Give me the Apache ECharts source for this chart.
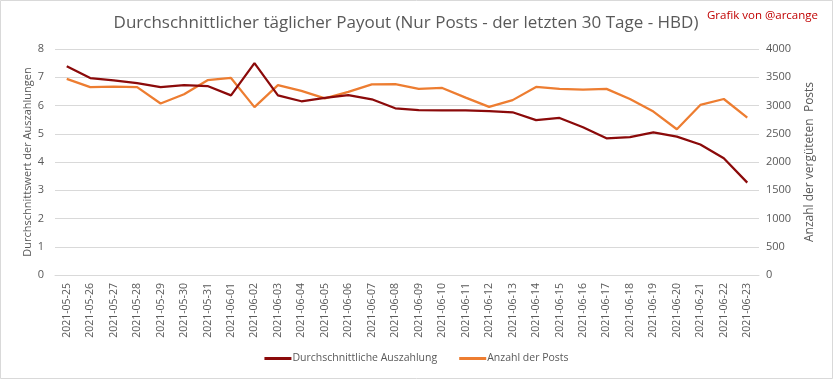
<!DOCTYPE html>
<html>
<head>
<meta charset="utf-8">
<script src="https://cdn.jsdelivr.net/npm/echarts@6/dist/echarts.min.js"></script>
<style>
html,body{margin:0;padding:0;background:#fff;}
#c{width:833px;height:379px;}
</style>
</head>
<body>
<div id="c"></div>
<script>
const categories = ["2021-05-25","2021-05-26","2021-05-27","2021-05-28","2021-05-29","2021-05-30","2021-05-31","2021-06-01","2021-06-02","2021-06-03","2021-06-04","2021-06-05","2021-06-06","2021-06-07","2021-06-08","2021-06-09","2021-06-10","2021-06-11","2021-06-12","2021-06-13","2021-06-14","2021-06-15","2021-06-16","2021-06-17","2021-06-18","2021-06-19","2021-06-20","2021-06-21","2021-06-22","2021-06-23"];
const payout = [7.39,6.97,6.89,6.79,6.65,6.72,6.69,6.36,7.50,6.36,6.15,6.27,6.37,6.22,5.90,5.84,5.83,5.83,5.80,5.76,5.48,5.56,5.23,4.84,4.88,5.05,4.90,4.62,4.13,3.27];
const posts = [3472,3325,3335,3325,3035,3200,3448,3488,2972,3360,3260,3125,3240,3375,3378,3295,3310,3140,2975,3095,3328,3296,3280,3294,3115,2893,2580,3010,3115,2786];
const leftTicks = [0,1,2,3,4,5,6,7,8];
const rightTicks = [0,500,1000,1500,2000,2500,3000,3500,4000];
const titleText = "Durchschnittlicher täglicher Payout (Nur Posts - der letzten 30 Tage - HBD)";
const creditText = "Grafik von @arcange";
const seriesNames = ["Durchschnittliche Auszahlung","Anzahl der Posts"];
const leftAxisName = "Durchschnittswert der Auszahlungen";
const rightAxisName = "Anzahl der vergüteten  Posts";

const FONT = "Open Sans";
const chart = echarts.init(document.getElementById('c'));
chart.setOption({
  backgroundColor: '#fff',
  animation: false,
  textStyle: {fontFamily: FONT},
  graphic: [{type: 'rect', shape: {x: 0.5, y: 0.5, width: 832, height: 378},
    style: {fill: 'none', stroke: '#d9d9d9', lineWidth: 1}, silent: true}],
  title: [
    {text: titleText, left: 401, top: 10, textAlign: 'center',
     textStyle: {fontFamily: FONT, fontSize: 17, fontWeight: 'normal', color: '#595959'}},
    {text: creditText, right: 10, top: 5,
     textStyle: {fontFamily: FONT, fontSize: 11.5, fontWeight: 'normal', color: '#c00000'}}
  ],
  legend: {
    bottom: 10, left: 'center', itemGap: 22, itemWidth: 27, itemHeight: 3, icon: 'rect',
    textStyle: {fontFamily: FONT, fontSize: 10.5, color: '#595959', padding: [0,0,0,-4]},
    data: seriesNames
  },
  grid: {left: 55, right: 74, top: 49, bottom: 104, containLabel: false},
  xAxis: {
    type: 'category', data: categories, boundaryGap: true,
    axisLine: {show: true, lineStyle: {color: '#d9d9d9', width: 1}},
    axisTick: {show: false},
    axisLabel: {rotate: 90, margin: 8, fontSize: 10.5, color: '#595959', fontFamily: FONT, interval: 0}
  },
  yAxis: [
    {type: 'value', min: 0, max: 8, interval: 1,
     name: leftAxisName, nameLocation: 'middle', nameGap: 22, nameRotate: 90, nameMoveOverlap: false,
     nameTextStyle: {fontFamily: FONT, fontSize: 11, color: '#595959'},
     axisLine: {show: false}, axisTick: {show: false},
     axisLabel: {margin: 11, fontSize: 11, color: '#595959', fontFamily: FONT,
       formatter: v => leftTicks.includes(v) ? String(v) : ''},
     splitLine: {lineStyle: {color: '#d9d9d9', width: 1}}},
    {type: 'value', min: 0, max: 4000, interval: 500, position: 'right',
     name: rightAxisName, nameLocation: 'middle', nameGap: 45, nameRotate: 90, nameMoveOverlap: false,
     nameTextStyle: {fontFamily: FONT, fontSize: 12, color: '#595959'},
     axisLine: {show: false}, axisTick: {show: false},
     axisLabel: {margin: 7, fontSize: 11, color: '#595959', fontFamily: FONT,
       formatter: v => rightTicks.includes(v) ? String(v) : ''},
     splitLine: {show: false}}
  ],
  series: [
    {name: seriesNames[0], type: 'line', yAxisIndex: 0, data: payout,
     symbol: 'none', lineStyle: {color: '#8b0a0a', width: 2.25}, itemStyle: {color: '#8b0a0a'}, z: 3},
    {name: seriesNames[1], type: 'line', yAxisIndex: 1, data: posts,
     symbol: 'none', lineStyle: {color: '#ed7d31', width: 2.25}, itemStyle: {color: '#ed7d31'}, z: 2}
  ]
});
</script>
</body>
</html>
